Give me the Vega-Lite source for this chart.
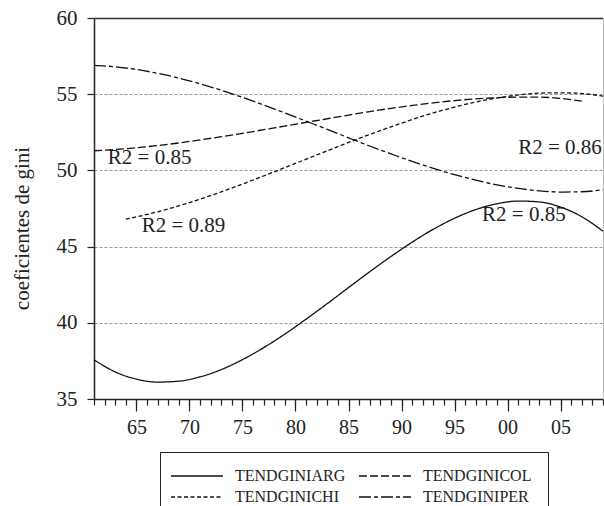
{
  "$schema": "https://vega.github.io/schema/vega-lite/v6.json",
  "width": 509,
  "height": 381,
  "autosize": {"type": "none"},
  "padding": {"left": 94, "top": 18, "right": 1, "bottom": 107},
  "background": "white",
  "config": {
    "view": {"stroke": null},
    "font": "Liberation Serif",
    "axis": {"labelFont": "Liberation Serif", "titleFont": "Liberation Serif", "labelColor": "#222", "titleColor": "#222"},
    "legend": {
      "orient": "none",
      "legendX": 66,
      "legendY": 434,
      "direction": "horizontal",
      "columns": 2,
      "strokeColor": "#222",
      "strokeWidth": 1,
      "padding": 16,
      "symbolType": "M-6,0H6",
      "symbolSize": 75,
      "symbolOffset": 13,
      "symbolStrokeColor": "#111",
      "symbolFillColor": "transparent",
      "symbolStrokeWidth": 1.3,
      "labelFont": "Liberation Serif",
      "labelFontSize": 16,
      "labelColor": "#222",
      "labelOffset": 30,
      "columnPadding": 10,
      "rowPadding": 5
    }
  },
  "datasets": {
    "lines": [
      {"serie": "TENDGINIARG", "anio": 1961, "gini": 37.57},
      {"serie": "TENDGINIARG", "anio": 1963, "gini": 36.78},
      {"serie": "TENDGINIARG", "anio": 1965, "gini": 36.30},
      {"serie": "TENDGINIARG", "anio": 1967, "gini": 36.11},
      {"serie": "TENDGINIARG", "anio": 1969, "gini": 36.17},
      {"serie": "TENDGINIARG", "anio": 1971, "gini": 36.45},
      {"serie": "TENDGINIARG", "anio": 1973, "gini": 36.93},
      {"serie": "TENDGINIARG", "anio": 1975, "gini": 37.58},
      {"serie": "TENDGINIARG", "anio": 1977, "gini": 38.37},
      {"serie": "TENDGINIARG", "anio": 1979, "gini": 39.26},
      {"serie": "TENDGINIARG", "anio": 1981, "gini": 40.24},
      {"serie": "TENDGINIARG", "anio": 1983, "gini": 41.26},
      {"serie": "TENDGINIARG", "anio": 1985, "gini": 42.31},
      {"serie": "TENDGINIARG", "anio": 1987, "gini": 43.35},
      {"serie": "TENDGINIARG", "anio": 1989, "gini": 44.35},
      {"serie": "TENDGINIARG", "anio": 1991, "gini": 45.29},
      {"serie": "TENDGINIARG", "anio": 1993, "gini": 46.14},
      {"serie": "TENDGINIARG", "anio": 1995, "gini": 46.86},
      {"serie": "TENDGINIARG", "anio": 1997, "gini": 47.43},
      {"serie": "TENDGINIARG", "anio": 1999, "gini": 47.81},
      {"serie": "TENDGINIARG", "anio": 2001, "gini": 47.99},
      {"serie": "TENDGINIARG", "anio": 2003, "gini": 47.93},
      {"serie": "TENDGINIARG", "anio": 2005, "gini": 47.59},
      {"serie": "TENDGINIARG", "anio": 2007, "gini": 46.96},
      {"serie": "TENDGINIARG", "anio": 2009, "gini": 46.01},
      {"serie": "TENDGINIPER", "anio": 1961, "gini": 56.89},
      {"serie": "TENDGINIPER", "anio": 1963, "gini": 56.80},
      {"serie": "TENDGINIPER", "anio": 1965, "gini": 56.62},
      {"serie": "TENDGINIPER", "anio": 1967, "gini": 56.37},
      {"serie": "TENDGINIPER", "anio": 1969, "gini": 56.06},
      {"serie": "TENDGINIPER", "anio": 1971, "gini": 55.68},
      {"serie": "TENDGINIPER", "anio": 1973, "gini": 55.26},
      {"serie": "TENDGINIPER", "anio": 1975, "gini": 54.79},
      {"serie": "TENDGINIPER", "anio": 1977, "gini": 54.29},
      {"serie": "TENDGINIPER", "anio": 1979, "gini": 53.77},
      {"serie": "TENDGINIPER", "anio": 1981, "gini": 53.23},
      {"serie": "TENDGINIPER", "anio": 1983, "gini": 52.69},
      {"serie": "TENDGINIPER", "anio": 1985, "gini": 52.14},
      {"serie": "TENDGINIPER", "anio": 1987, "gini": 51.60},
      {"serie": "TENDGINIPER", "anio": 1989, "gini": 51.09},
      {"serie": "TENDGINIPER", "anio": 1991, "gini": 50.59},
      {"serie": "TENDGINIPER", "anio": 1993, "gini": 50.14},
      {"serie": "TENDGINIPER", "anio": 1995, "gini": 49.72},
      {"serie": "TENDGINIPER", "anio": 1997, "gini": 49.36},
      {"serie": "TENDGINIPER", "anio": 1999, "gini": 49.05},
      {"serie": "TENDGINIPER", "anio": 2001, "gini": 48.82},
      {"serie": "TENDGINIPER", "anio": 2003, "gini": 48.66},
      {"serie": "TENDGINIPER", "anio": 2005, "gini": 48.58},
      {"serie": "TENDGINIPER", "anio": 2007, "gini": 48.60},
      {"serie": "TENDGINIPER", "anio": 2009, "gini": 48.73},
      {"serie": "TENDGINICOL", "anio": 1961, "gini": 51.29},
      {"serie": "TENDGINICOL", "anio": 1963, "gini": 51.37},
      {"serie": "TENDGINICOL", "anio": 1965, "gini": 51.49},
      {"serie": "TENDGINICOL", "anio": 1967, "gini": 51.63},
      {"serie": "TENDGINICOL", "anio": 1969, "gini": 51.80},
      {"serie": "TENDGINICOL", "anio": 1971, "gini": 52.00},
      {"serie": "TENDGINICOL", "anio": 1973, "gini": 52.21},
      {"serie": "TENDGINICOL", "anio": 1975, "gini": 52.43},
      {"serie": "TENDGINICOL", "anio": 1977, "gini": 52.67},
      {"serie": "TENDGINICOL", "anio": 1979, "gini": 52.91},
      {"serie": "TENDGINICOL", "anio": 1981, "gini": 53.15},
      {"serie": "TENDGINICOL", "anio": 1983, "gini": 53.39},
      {"serie": "TENDGINICOL", "anio": 1985, "gini": 53.63},
      {"serie": "TENDGINICOL", "anio": 1987, "gini": 53.86},
      {"serie": "TENDGINICOL", "anio": 1989, "gini": 54.07},
      {"serie": "TENDGINICOL", "anio": 1991, "gini": 54.26},
      {"serie": "TENDGINICOL", "anio": 1993, "gini": 54.43},
      {"serie": "TENDGINICOL", "anio": 1995, "gini": 54.58},
      {"serie": "TENDGINICOL", "anio": 1997, "gini": 54.69},
      {"serie": "TENDGINICOL", "anio": 1999, "gini": 54.77},
      {"serie": "TENDGINICOL", "anio": 2001, "gini": 54.81},
      {"serie": "TENDGINICOL", "anio": 2003, "gini": 54.81},
      {"serie": "TENDGINICOL", "anio": 2005, "gini": 54.72},
      {"serie": "TENDGINICOL", "anio": 2007, "gini": 54.55},
      {"serie": "TENDGINICHI", "anio": 1964, "gini": 46.80},
      {"serie": "TENDGINICHI", "anio": 1966, "gini": 47.11},
      {"serie": "TENDGINICHI", "anio": 1968, "gini": 47.47},
      {"serie": "TENDGINICHI", "anio": 1970, "gini": 47.89},
      {"serie": "TENDGINICHI", "anio": 1972, "gini": 48.35},
      {"serie": "TENDGINICHI", "anio": 1974, "gini": 48.84},
      {"serie": "TENDGINICHI", "anio": 1976, "gini": 49.37},
      {"serie": "TENDGINICHI", "anio": 1978, "gini": 49.91},
      {"serie": "TENDGINICHI", "anio": 1980, "gini": 50.46},
      {"serie": "TENDGINICHI", "anio": 1982, "gini": 51.01},
      {"serie": "TENDGINICHI", "anio": 1984, "gini": 51.56},
      {"serie": "TENDGINICHI", "anio": 1986, "gini": 52.10},
      {"serie": "TENDGINICHI", "anio": 1988, "gini": 52.61},
      {"serie": "TENDGINICHI", "anio": 1990, "gini": 53.10},
      {"serie": "TENDGINICHI", "anio": 1992, "gini": 53.56},
      {"serie": "TENDGINICHI", "anio": 1994, "gini": 53.97},
      {"serie": "TENDGINICHI", "anio": 1996, "gini": 54.33},
      {"serie": "TENDGINICHI", "anio": 1998, "gini": 54.63},
      {"serie": "TENDGINICHI", "anio": 2000, "gini": 54.86},
      {"serie": "TENDGINICHI", "anio": 2002, "gini": 55.02},
      {"serie": "TENDGINICHI", "anio": 2004, "gini": 55.09},
      {"serie": "TENDGINICHI", "anio": 2006, "gini": 55.08},
      {"serie": "TENDGINICHI", "anio": 2008, "gini": 54.97},
      {"serie": "TENDGINICHI", "anio": 2009, "gini": 54.87}
    ],
    "labels": [
      {"label": "R2 = 0.85", "anio": 1962.3, "gini": 50.81},
      {"label": "R2 = 0.89", "anio": 1965.5, "gini": 46.35},
      {"label": "R2 = 0.86", "anio": 2001.0, "gini": 51.47},
      {"label": "R2 = 0.85", "anio": 1997.6, "gini": 47.07}
    ]
  },
  "layer": [
    {
      "data": {"name": "lines"},
      "transform": [{"filter": {"field": "serie", "oneOf": ["TENDGINIARG", "TENDGINICOL"]}}],
      "mark": {"type": "line", "interpolate": "monotone", "color": "#111", "strokeWidth": 1.3},
      "encoding": {
        "x": {
          "field": "anio", "type": "quantitative",
          "scale": {"domain": [1961, 2009], "nice": false, "zero": false},
          "axis": {
            "orient": "bottom",
            "values": [1965, 1970, 1975, 1980, 1985, 1990, 1995, 2000, 2005],
            "labelExpr": "slice('0' + (datum.value % 100), -2)",
            "tickSize": 12, "tickColor": "#222", "tickWidth": 1.2,
            "domainColor": "#222", "domainWidth": 1.5,
            "labelFontSize": 20, "labelPadding": 6,
            "grid": false, "title": null
          }
        },
        "y": {
          "field": "gini", "type": "quantitative",
          "scale": {"domain": [35, 60], "nice": false, "zero": false},
          "axis": {
            "orient": "left",
            "values": [35, 40, 45, 50, 55, 60],
            "tickSize": 7, "tickColor": "#222", "tickWidth": 1.2,
            "domainColor": "#222", "domainWidth": 1.5,
            "labelFontSize": 21, "labelPadding": 10,
            "grid": false,
            "title": "coeficientes de gini",
            "titleFontSize": 21, "titleFontWeight": "normal", "titlePadding": 24,
            "titleY": 210
          }
        },
        "strokeDash": {
          "field": "serie", "type": "nominal",
          "scale": {
            "domain": ["TENDGINIARG", "TENDGINICOL", "TENDGINICHI", "TENDGINIPER"],
            "range": [[1, 0], [8, 3], [4, 2.5], [12, 3, 4, 3]]
          },
          "legend": {"title": null}
        }
      }
    },
    {
      "data": {"name": "labels"},
      "mark": {"type": "text", "align": "left", "baseline": "middle", "font": "Liberation Serif", "fontSize": 21, "color": "#222"},
      "encoding": {
        "x": {
          "field": "anio", "type": "quantitative",
          "scale": {"domain": [1961, 2009], "nice": false, "zero": false},
          "axis": {"orient": "top", "ticks": false, "labels": false, "grid": false, "title": null, "domainColor": "#333", "domainWidth": 1.5}
        },
        "y": {
          "field": "gini", "type": "quantitative",
          "scale": {"domain": [35, 60], "nice": false, "zero": false},
          "axis": {"orient": "right", "ticks": false, "labels": false, "grid": false, "title": null, "domainColor": "#bbb", "domainWidth": 1}
        },
        "text": {"field": "label"}
      }
    },
    {
      "data": {"name": "lines"},
      "transform": [{"filter": {"field": "serie", "oneOf": ["TENDGINICHI", "TENDGINIPER"]}}],
      "mark": {"type": "line", "interpolate": "monotone", "color": "#111", "strokeWidth": 1.3},
      "encoding": {
        "x": {
          "field": "anio", "type": "quantitative",
          "scale": {"domain": [1961, 2009], "nice": false, "zero": false},
          "axis": {
            "orient": "bottom",
            "values": [1961, 1962, 1963, 1964, 1965, 1966, 1967, 1968, 1969, 1970, 1971, 1972, 1973, 1974, 1975, 1976, 1977, 1978, 1979, 1980, 1981, 1982, 1983, 1984, 1985, 1986, 1987, 1988, 1989, 1990, 1991, 1992, 1993, 1994, 1995, 1996, 1997, 1998, 1999, 2000, 2001, 2002, 2003, 2004, 2005, 2006, 2007, 2008, 2009],
            "tickSize": 6, "tickColor": "#222", "tickWidth": 1.2,
            "domain": false, "labels": false, "grid": false, "title": null
          }
        },
        "y": {
          "field": "gini", "type": "quantitative",
          "scale": {"domain": [35, 60], "nice": false, "zero": false},
          "axis": {
            "orient": "left",
            "values": [40, 45, 50, 55],
            "grid": true, "gridColor": "#9a9a9a", "gridDash": [3, 2], "gridWidth": 1,
            "domain": false, "ticks": false, "labels": false, "title": null
          }
        },
        "strokeDash": {"field": "serie", "type": "nominal"}
      }
    }
  ],
  "resolve": {"axis": {"x": "independent", "y": "independent"}}
}
